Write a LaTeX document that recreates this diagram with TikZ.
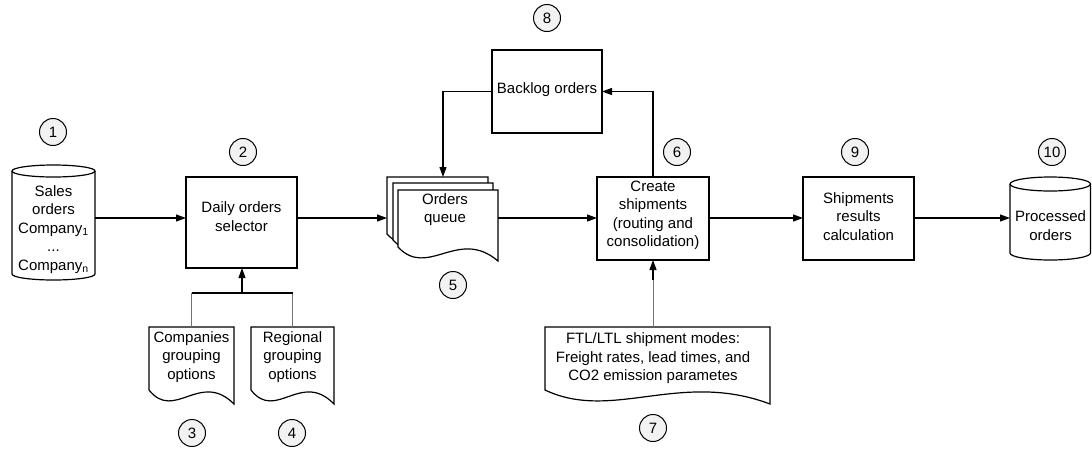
\documentclass[tikz,border=0pt]{standalone}
\usepackage{fontspec}
\setmainfont{Liberation Sans}
\usetikzlibrary{arrows.meta,calc}
\pgfdeclarelayer{bg}
\pgfsetlayers{bg,main}
\definecolor{numfill}{RGB}{242,242,242}
\tikzset{
  ln/.style={line width=1.2pt, black},
  arr/.style={ln, -{Triangle[length=10pt,width=7pt]}},
  txt/.style={align=center, font=\fontsize{15}{18.5}\selectfont, inner sep=0pt},
  num/.style={circle, draw, line width=1pt, fill=numfill, minimum size=27pt, inner sep=0pt, font=\fontsize{15}{18}\selectfont},
  box/.style={draw, line width=1.2pt, inner sep=0pt, outer sep=0pt},
  area/.style={inner sep=0pt, outer sep=0pt},
  branch/.style={line width=1pt, black!55},
}
\newcommand\docshape[1]{%
  \draw[ln, fill=white] (#1.north west) -- (#1.south west)
    .. controls ($(#1.south west)!0.3!(#1.south east)+(0,32)$) and ($(#1.south west)!0.6!(#1.south east)+(0,-20)$)
    .. ($(#1.south east)+(0,14)$) -- (#1.north east) -- cycle;}
\newcommand\cylshape[3]{% name, rx, ry
  \draw[ln] ([yshift=-#3pt]#1.north west) -- ([yshift=#3pt]#1.south west)
    arc[start angle=180, end angle=360, x radius=#2pt, y radius=#3pt]
    -- ([yshift=-#3pt]#1.north east);
  \draw[ln] ([yshift=-#3pt]#1.north) ellipse[x radius=#2pt, y radius=#3pt];}
\begin{document}
\begin{tikzpicture}[x=1pt, y=-1pt]
\useasboundingbox (0,0) rectangle (1092,448);
\coordinate (mid) at (0,218);

% shape areas
\node[area, minimum width=83pt, minimum height=115pt] (c1) at (53.5,222.5) {};
\node[box, minimum width=111pt, minimum height=91pt] (b2) at (241.5,222.5) {};
\node[area, minimum width=85pt, minimum height=63pt] (d3) at (191.5,358.5) {};
\node[area, minimum width=83pt, minimum height=63pt] (d4) at (292.5,358.5) {};
\node[area, minimum width=101pt, minimum height=57pt] (q3) at (437.5,205.5) {};
\node[area, minimum width=100pt, minimum height=57pt] (q2) at (443,211.5) {};
\node[area, minimum width=100pt, minimum height=57pt] (q1) at (448,218.5) {};
\node[box, minimum width=110pt, minimum height=83pt] (bl) at (547,91.5) {};
\node[box, minimum width=112pt, minimum height=83pt] (b6) at (653,218.5) {};
\node[area, minimum width=225pt, minimum height=63pt] (d7) at (657.5,358.5) {};
\node[box, minimum width=111pt, minimum height=83pt] (b9) at (858.5,218.5) {};
\node[area, minimum width=80.5pt, minimum height=83pt] (c10) at (1050.25,218.5) {};

\begin{pgfonlayer}{bg}
  \cylshape{c1}{41.5}{6}
  \cylshape{c10}{40.25}{7}
  \docshape{d3}
  \docshape{d4}
  \docshape{q3}
  \docshape{q2}
  \docshape{q1}
  \docshape{d7}
\end{pgfonlayer}

% texts
\node[txt] (t1) at (53.5,229.5) {Sales\\orders\\Company\textsubscript{1}\\...\\Company\textsubscript{n}};
\node[txt] (t2) at (241.5,216.5) {Daily orders\\selector};
\node[txt] (t3) at (191.5,357) {Companies\\grouping\\options};
\node[txt] (t4) at (292.5,357) {Regional\\grouping\\options};
\node[txt] (t5) at (445,209.5) {Orders\\queue};
\node[txt] (t8) at (547,90) {Backlog orders};
\node[txt] (t6) at (653,215.5) {Create\\shipments\\(routing and\\consolidation)};
\node[txt] (t7) at (653,358.5) {FTL/LTL shipment modes:\\Freight rates, lead times, and\\CO2 emission parametes};
\node[txt] (t9) at (858.5,216.5) {Shipments\\results\\calculation};
\node[txt] (t10) at (1050.5,225.5) {Processed\\orders};

% numbers
\node[num] (n1) at (53,132) {1};
\node[num] (n2) at (243,152) {2};
\node[num] (n3) at (192,433) {3};
\node[num] (n4) at (292,433) {4};
\node[num] (n5) at (453,285) {5};
\node[num] (n6) at (677,152) {6};
\node[num] (n7) at (653,428) {7};
\node[num] (n8) at (547,18) {8};
\node[num] (n9) at (855,152) {9};
\node[num] (n10) at (1052,152) {10};

% connectors
\draw[arr] (c1.east |- mid) -- (b2.west |- mid);
\draw[arr] (b2.east |- mid) -- (q3.west |- mid);
\draw[arr] (q1.east |- mid) -- (b6.west |- mid);
\draw[arr] (b6.east |- mid) -- (b9.west |- mid);
\draw[arr] (b9.east |- mid) -- (c10.west |- mid);
\draw[arr] (b6.north) |- (bl.east);
\draw[arr] (bl.west) -| ([xshift=5.5pt]q3.north);
\coordinate (j7) at (d7.north -| b6.south);
\draw[branch] (j7) -- ([yshift=-20pt]b6.south);
\draw[arr] ([yshift=-20pt]b6.south) -- (b6.south);
\coordinate (j) at (242,293);
\draw[branch] (d3.north) -- (d3.north |- j);
\draw[branch] (d4.north) -- (d4.north |- j);
\draw[ln] (d3.north |- j) -- (d4.north |- j);
\draw[arr] (j) -- (j |- b2.south);
\end{tikzpicture}
\end{document}
